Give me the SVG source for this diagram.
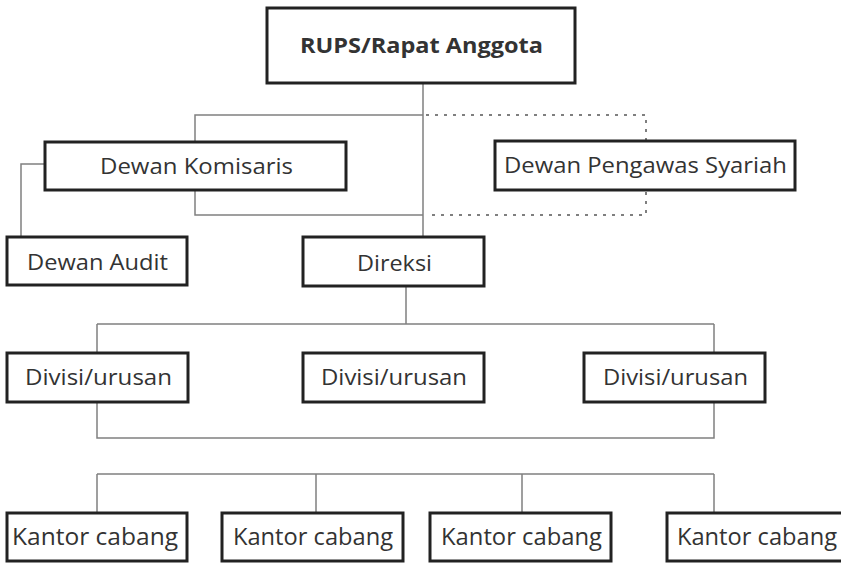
<svg xmlns="http://www.w3.org/2000/svg" width="841" height="564" viewBox="0 0 841 564">
<style>
.box{fill:#fff;stroke:#222;stroke-width:3}
.ln{fill:none;stroke:#808080;stroke-width:1.5}
.dot{fill:none;stroke:#555;stroke-width:1.5;stroke-dasharray:3 6}
text{font-family:"Open Sans","Liberation Sans",sans-serif;fill:#333;text-anchor:middle;font-size:21px}
.b{font-weight:bold;font-size:22px}
.k{font-size:23px}
</style>
<rect width="841" height="564" fill="#fff"/>
<g id="connectors">
<path class="ln" d="M423 83V237M423 115H195V142M195 190V215H423M45 164H21V237M406 286V324M97 324H714M97 324V352M714 324V353M97 402V438H714V402M97 474H714M97 474V512M316 474V512M522 474V512M714 474V512"/>
<path class="dot" d="M426 115H646V215H426"/>
</g>
<g id="rups"><rect class="box" x="267" y="8" width="308" height="75"/><text class="b" x="421.5" y="53" textLength="243" lengthAdjust="spacingAndGlyphs">RUPS/Rapat Anggota</text></g>
<g id="komisaris"><rect class="box" x="45" y="142" width="301" height="48"/><text x="196.5" y="174" textLength="193" lengthAdjust="spacingAndGlyphs">Dewan Komisaris</text></g>
<g id="syariah"><rect class="box" x="495" y="141" width="300" height="49"/><text x="645.5" y="173" textLength="283" lengthAdjust="spacingAndGlyphs">Dewan Pengawas Syariah</text></g>
<g id="audit"><rect class="box" x="7" y="237" width="180" height="48"/><text x="97.5" y="270" textLength="141" lengthAdjust="spacingAndGlyphs">Dewan Audit</text></g>
<g id="direksi"><rect class="box" x="303" y="237" width="181" height="49"/><text x="394.5" y="271" textLength="75" lengthAdjust="spacingAndGlyphs">Direksi</text></g>
<g id="divisi1"><rect class="box" x="7" y="353" width="181" height="49"/><text x="98.5" y="385" textLength="147" lengthAdjust="spacingAndGlyphs">Divisi/urusan</text></g>
<g id="divisi2"><rect class="box" x="303" y="353" width="181" height="49"/><text x="394" y="385" textLength="146" lengthAdjust="spacingAndGlyphs">Divisi/urusan</text></g>
<g id="divisi3"><rect class="box" x="584" y="353" width="181" height="49"/><text x="675.5" y="385" textLength="145" lengthAdjust="spacingAndGlyphs">Divisi/urusan</text></g>
<g id="kantor1"><rect class="box" x="7" y="513" width="180" height="48"/><text class="k" x="95" y="545" textLength="166" lengthAdjust="spacingAndGlyphs">Kantor cabang</text></g>
<g id="kantor2"><rect class="box" x="222" y="513" width="181" height="48"/><text class="k" x="313" y="545" textLength="160" lengthAdjust="spacingAndGlyphs">Kantor cabang</text></g>
<g id="kantor3"><rect class="box" x="430" y="513" width="181" height="48"/><text class="k" x="521.5" y="545" textLength="161" lengthAdjust="spacingAndGlyphs">Kantor cabang</text></g>
<g id="kantor4"><rect class="box" x="667" y="513" width="180" height="48"/><text class="k" x="757" y="545" textLength="160" lengthAdjust="spacingAndGlyphs">Kantor cabang</text></g>
</svg>
